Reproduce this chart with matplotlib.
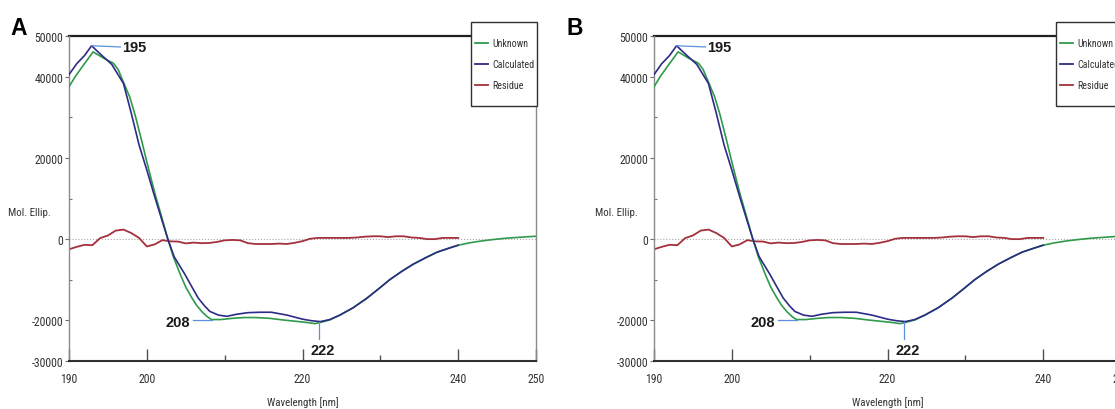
import matplotlib
matplotlib.use("Agg")
import matplotlib.pyplot as plt
from matplotlib import font_manager
from matplotlib.lines import Line2D
from matplotlib.patches import Rectangle

# CD spectrum fit: measured (Unknown), fitted (Calculated) and residue
wl_calc = [190, 191, 192, 192.9, 194, 195.5, 197, 198, 199, 200, 201, 202, 202.7,
           203.5, 204.9, 205.8, 206.6, 207.4, 208.1, 209.2, 210.3, 211.5, 213, 214.5,
           216, 218, 220, 221.2, 222.3, 223.5, 224.8, 226.5, 228.3, 229.8, 231.2,
           232.7, 234.2, 235.8, 237.3, 238.7, 240]
calc = [40500, 43200, 45200, 47600, 45600, 43000, 38300, 31000, 23200, 17000, 10500,
        4300, 0, -4300, -8700, -11800, -14500, -16400, -17800, -18700, -19000, -18500,
        -18100, -18000, -18000, -18700, -19700, -20100, -20300, -19800, -18700, -16900,
        -14500, -12200, -10000, -8000, -6200, -4600, -3200, -2300, -1500]

wl_unk = [190, 190.8, 191.8, 193.1, 194.4, 195.7, 196.3, 197.8, 198.5, 199.3, 200, 201,
          202, 202.7, 203.4, 204.3, 205, 205.8, 206.4, 207.05, 207.7, 208.3, 209.5, 211,
          212.5, 214, 215.8, 217.5, 219, 220.5, 221.6, 222.3, 223.5, 224.8, 226.5, 228.3,
          229.8, 231.2, 232.7, 234.2, 235.8, 237.3, 238.7, 240, 241.5, 243, 244.5, 246,
          247.5, 249, 250]
unknown = [37500, 40000, 42700, 46100, 44600, 43300, 41800, 35000, 30500, 24500, 19000,
           11500, 4800, 0, -4300, -8700, -11800, -14500, -16300, -17800, -19000, -19800,
           -19800, -19500, -19300, -19300, -19500, -19900, -20200, -20500, -20800, -20500,
           -19900, -18700, -16900, -14500, -12200, -10000, -8000, -6200, -4600, -3200,
           -2300, -1500, -900, -450, -100, 200, 400, 600, 700]

wl_res = list(range(190, 241))
residue = [-2500, -1900, -1400, -1500, 250, 900, 2100, 2350, 1500, 300,
           -1800, -1300, -250, -550, -600, -1050, -850, -1000, -950, -700,
           -300, -200, -300, -1000, -1200, -1200, -1200, -1100, -1200, -900,
           -500, 100, 300, 300, 300, 300, 300, 400, 600, 700,
           700, 500, 700, 700, 400, 300, 0, 0, 300, 300, 300]

peak_labels = ["195", "208", "222"]
xticks_major = [190, 200, 220, 240, 250]
xticks_minor = [210, 230]
yticks_major = [50000, 40000, 20000, 0, -20000, -30000]
yticks_minor = [30000, 10000, -10000]
series_names = ["Unknown", "Calculated", "Residue"]

GREEN = "#2f9a4c"
BLUE = "#2c2c86"
RED = "#a3303c"
LEAD = "#5b8fdc"

W, H = 1115, 410
installed = {f.name for f in font_manager.fontManager.ttflist}
NARROW = next((n for n in ["Liberation Sans Narrow", "Roboto Condensed",
                           "Open Sans Condensed", "Arial Narrow"] if n in installed),
              "Liberation Sans")

fig = plt.figure(figsize=(W / 100, H / 100), dpi=100)
fig.patch.set_facecolor("white")


def draw_panel(left_px, letter, letter_px, ylab_x):
    ax = fig.add_axes([left_px / W, 1 - 362 / H, 467 / W, 325 / H])
    ax.set_xlim(190, 250)
    ax.set_ylim(-30000, 50000)

    ax.axhline(0, color="#a8a8a8", lw=0.8, ls=":", zorder=1)
    ax.plot(wl_res, residue, color=RED, lw=1.3, zorder=2)
    ax.plot(wl_unk, unknown, color=GREEN, lw=1.2, zorder=3)
    ax.plot(wl_calc, calc, color=BLUE, lw=1.2, zorder=4)

    # peak markers with leader lines
    ax.plot([192.9, 196.6], [47600, 47300], color=LEAD, lw=0.9, zorder=5)
    ax.text(196.8, 47200, peak_labels[0], ha="left", va="center", fontsize=10.5,
            fontweight="bold", color="#1a1a1a", family="Liberation Sans")
    ax.plot([205.9, 208.4], [-19800, -19800], color=LEAD, lw=0.9, zorder=5)
    ax.text(205.6, -20400, peak_labels[1], ha="right", va="center", fontsize=10.5,
            fontweight="bold", color="#1a1a1a", family="Liberation Sans")
    ax.plot([222.1, 222.1], [-20400, -24600], color=LEAD, lw=0.9, zorder=5)
    ax.text(222.6, -27400, peak_labels[2], ha="center", va="center", fontsize=10.5,
            fontweight="bold", color="#1a1a1a", family="Liberation Sans")

    # axes frame: top line stops at the legend box, right line starts under it
    for side in ["top", "right"]:
        ax.spines[side].set_visible(False)
    ax.spines["left"].set_color("#8a8a8a")
    ax.spines["left"].set_linewidth(1.0)
    ax.spines["bottom"].set_color("#303030")
    ax.spines["bottom"].set_linewidth(1.5)
    box_x0, box_y0 = (471 - 69) / 467, (362 - 107) / 325
    box_w, box_h = (537 - 471) / 467, (107 - 23) / 325
    ax.add_line(Line2D([0, box_x0], [1, 1], transform=ax.transAxes, color="#202020",
                       lw=1.6, clip_on=False))
    ax.add_line(Line2D([1, 1], [0, box_y0], transform=ax.transAxes, color="#8a8a8a",
                       lw=1.0, clip_on=False))

    # legend box
    ax.add_patch(Rectangle((box_x0, box_y0), box_w, box_h, transform=ax.transAxes,
                           facecolor="white", edgecolor="#303030", lw=1.0,
                           clip_on=False, zorder=6))
    for name, col, ypx in zip(series_names, [GREEN, BLUE, RED], [44, 65, 86]):
        yy = (362 - ypx) / 325
        ax.add_line(Line2D([(475 - 69) / 467, (488 - 69) / 467], [yy, yy],
                           transform=ax.transAxes, color=col, lw=1.3,
                           clip_on=False, zorder=7))
        ax.text((492 - 69) / 467, yy, name, transform=ax.transAxes, ha="left",
                va="center", fontsize=7.2, family=NARROW, color="#333333", zorder=7)

    # ticks
    ax.set_xticks(xticks_major)
    ax.set_xticklabels([str(v) for v in xticks_major])
    ax.set_xticks(xticks_minor, minor=True)
    ax.set_yticks(yticks_major)
    ax.set_yticklabels([str(v) for v in yticks_major])
    ax.set_yticks(yticks_minor, minor=True)
    ax.tick_params(axis="x", which="major", direction="in", length=8.5, width=1.0,
                   color="#505050", pad=8, labelsize=8.5, labelcolor="#333333")
    ax.tick_params(axis="x", which="minor", direction="in", length=4.3, width=1.0,
                   color="#505050")
    ax.tick_params(axis="y", which="major", direction="out", length=3, width=0.8,
                   color="#707070", pad=1, labelsize=8.5, labelcolor="#333333")
    ax.tick_params(axis="y", which="minor", direction="in", length=2, width=0.8,
                   color="#707070")
    for lab in ax.get_xticklabels() + ax.get_yticklabels():
        lab.set_family(NARROW)

    ax.text(0.5, (362 - 403) / 325, "Wavelength [nm]", transform=ax.transAxes,
            ha="center", va="center", fontsize=7.8, family=NARROW, color="#333333")
    ax.text((ylab_x - left_px) / 467, (362 - 213) / 325, "Mol. Ellip.",
            transform=ax.transAxes, ha="left", va="center", fontsize=7.8,
            family=NARROW, color="#333333")

    fig.text(letter_px / W, 1 - 35 / H, letter, ha="left", va="baseline",
             fontsize=16.5, fontweight="bold", family="Liberation Sans")
    return ax


draw_panel(69, "A", 10, 8)
draw_panel(654, "B", 566, 595)

fig.savefig("out.png", dpi=100, facecolor="white")
